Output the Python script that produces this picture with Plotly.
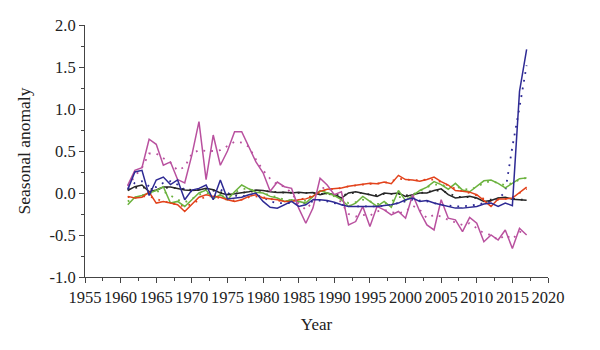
import plotly.graph_objects as go

years = list(range(1961, 2018))

magenta = [0.09, 0.27, 0.30, 0.64, 0.58, 0.33, 0.37, 0.16, 0.12, 0.45,
           0.85, 0.16, 0.69, 0.33, 0.50, 0.73, 0.73, 0.55, 0.37, 0.24,
           0.02, 0.13, 0.075, 0.055, -0.18, -0.36, -0.18, 0.175, 0.095, -0.02,
           0.015, -0.38, -0.34, -0.16, -0.40, -0.16, -0.20, -0.26, -0.22, -0.30,
           -0.02, -0.22, -0.38, -0.44, -0.08, -0.30, -0.32, -0.46, -0.29, -0.36,
           -0.58, -0.50, -0.56, -0.44, -0.66, -0.42, -0.50]
magenta_fit = [0.08, 0.20, 0.30, 0.47, 0.47, 0.41, 0.36, 0.27, 0.31, 0.47,
               0.51, 0.50, 0.50, 0.51, 0.56, 0.61, 0.60, 0.55, 0.40, 0.27,
               0.17, 0.10, 0.075, 0.0, -0.12, -0.20, -0.10, 0.05, 0.07, 0.0,
               -0.12, -0.25, -0.28, -0.26, -0.27, -0.22, -0.20, -0.23, -0.24, -0.22,
               -0.15, -0.20, -0.30, -0.26, -0.28, -0.32, -0.35, -0.38, -0.36, -0.42,
               -0.48, -0.50, -0.56, -0.50, -0.55, -0.46, -0.48]

blue = [0.04, 0.25, 0.27, -0.03, 0.155, 0.19, 0.10, 0.155, -0.08, 0.035,
        0.055, 0.095, -0.08, 0.155, -0.07, -0.06, -0.05, -0.02, 0.0, -0.10,
        -0.17, -0.18, -0.14, -0.10, -0.16, -0.14, -0.08, -0.08, -0.09, -0.11,
        -0.14, -0.16, -0.16, -0.16, -0.16, -0.16, -0.15, -0.14, -0.12, -0.08,
        -0.06, -0.10, -0.09, -0.12, -0.14, -0.16, -0.18, -0.18, -0.17, -0.16,
        -0.13, -0.12, -0.16, -0.12, -0.15, 1.21, 1.71]
blue_fit = [0.05, 0.12, 0.14, 0.08, 0.07, 0.12, 0.14, 0.10, 0.04, 0.02,
            0.04, 0.05, 0.03, 0.04, 0.0, -0.03, -0.04, -0.03, -0.02, -0.05,
            -0.10, -0.12, -0.12, -0.12, -0.13, -0.12, -0.10, -0.09, -0.10, -0.12,
            -0.14, -0.15, -0.16, -0.16, -0.16, -0.16, -0.15, -0.14, -0.12, -0.10,
            -0.08, -0.09, -0.10, -0.12, -0.14, -0.15, -0.16, -0.16, -0.15, -0.14,
            -0.12, -0.10, -0.08, 0.02, 0.55, 1.02, 1.52]

red = [-0.04, -0.06, -0.05, 0.01, -0.12, -0.10, -0.12, -0.14, -0.22, -0.14,
       -0.05, -0.02, -0.04, -0.05, -0.08, -0.10, -0.08, -0.04, -0.02, -0.06,
       -0.07, -0.08, -0.10, -0.10, -0.08, -0.07, -0.04, 0.02, 0.045, 0.05,
       0.06, 0.08, 0.09, 0.10, 0.115, 0.11, 0.13, 0.11, 0.21, 0.16,
       0.155, 0.14, 0.16, 0.19, 0.135, 0.095, 0.03, 0.02, 0.01, -0.02,
       -0.09, -0.16, -0.07, -0.07, -0.06, 0.0, 0.07]
red_fit = [-0.05, -0.05, -0.04, -0.04, -0.07, -0.10, -0.12, -0.14, -0.16, -0.13,
           -0.08, -0.04, -0.04, -0.06, -0.08, -0.09, -0.08, -0.05, -0.04, -0.05,
           -0.07, -0.09, -0.10, -0.09, -0.08, -0.06, -0.03, 0.01, 0.04, 0.05,
           0.06, 0.08, 0.09, 0.10, 0.11, 0.11, 0.12, 0.14, 0.17, 0.16,
           0.155, 0.15, 0.16, 0.16, 0.13, 0.09, 0.05, 0.02, 0.0, -0.03,
           -0.07, -0.10, -0.08, -0.07, -0.05, 0.0, 0.05]

green = [-0.14, -0.05, -0.03, 0.0, 0.03, 0.075, -0.12, -0.10, -0.16, -0.08,
         0.0, 0.035, -0.07, -0.02, -0.08, 0.015, 0.095, 0.05, 0.01, 0.0,
         -0.04, -0.06, -0.10, -0.08, -0.10, -0.12, -0.04, 0.03, 0.0, -0.03,
         -0.08, -0.16, -0.12, -0.04, -0.10, -0.16, -0.10, -0.17, 0.03, -0.09,
         -0.03, 0.03, 0.07, 0.135, 0.10, 0.045, 0.115, 0.035, 0.015, 0.075,
         0.145, 0.155, 0.115, 0.06, 0.12, 0.17, 0.18]
green_fit = [-0.10, -0.06, -0.03, -0.01, 0.02, 0.02, -0.03, -0.08, -0.11, -0.07,
             -0.02, 0.0, -0.03, -0.04, -0.04, 0.01, 0.05, 0.05, 0.02, 0.0,
             -0.03, -0.05, -0.08, -0.09, -0.10, -0.09, -0.04, 0.0, -0.01, -0.04,
             -0.08, -0.12, -0.11, -0.08, -0.10, -0.13, -0.13, -0.10, -0.05, -0.05,
             -0.02, 0.03, 0.07, 0.10, 0.10, 0.07, 0.08, 0.05, 0.04, 0.07,
             0.12, 0.14, 0.12, 0.09, 0.12, 0.16, 0.18]

black = [0.03, 0.075, 0.095, 0.015, 0.035, 0.07, 0.07, 0.055, 0.035, 0.03,
         0.035, 0.055, 0.04, 0.0, -0.02, -0.01, 0.0, 0.015, 0.035, 0.03,
         0.015, 0.005, 0.01, 0.0, 0.01, 0.0, 0.005, -0.02, 0.0, -0.02,
         -0.06, 0.0, 0.015, 0.0, -0.02, -0.04, 0.0, -0.01, 0.0, -0.04,
         -0.02, 0.0, 0.0, 0.03, 0.05, -0.02, -0.06, -0.05, -0.04, -0.06,
         -0.10, -0.09, -0.06, -0.05, -0.075, -0.08, -0.085]
black_fit = [0.04, 0.06, 0.07, 0.05, 0.04, 0.06, 0.065, 0.055, 0.04, 0.035,
             0.035, 0.04, 0.03, 0.01, -0.01, -0.01, 0.0, 0.015, 0.025, 0.025,
             0.015, 0.01, 0.005, 0.005, 0.005, 0.0, 0.0, -0.01, -0.01, -0.02,
             -0.03, -0.01, 0.005, 0.0, -0.02, -0.025, -0.01, -0.01, -0.01, -0.03,
             -0.02, 0.0, 0.01, 0.03, 0.03, 0.0, -0.04, -0.05, -0.05, -0.06,
             -0.08, -0.08, -0.065, -0.06, -0.07, -0.08, -0.085]

y_ticks = [-1.0, -0.5, 0.0, 0.5, 1.0, 1.5, 2.0]
y_tick_labels = ["-1.0", "-0.5", "0.0", "0.5", "1.0", "1.5", "2.0"]
x_ticks = list(range(1955, 2021, 5))

series = [
    (black, black_fit, "#262626"),
    (green, green_fit, "#6cb33f"),
    (red, red_fit, "#e2421b"),
    (magenta, magenta_fit, "#b9519f"),
    (blue, blue_fit, "#2e2a94"),
]

fig = go.Figure()
for vals, fit, col in series:
    fig.add_trace(go.Scatter(x=years, y=fit, mode="lines",
                             line=dict(color=col, width=1.8, dash="1.8px,6px"),
                             hoverinfo="skip", showlegend=False))
for vals, fit, col in series:
    fig.add_trace(go.Scatter(x=years, y=vals, mode="lines",
                             line=dict(color=col, width=1.5),
                             showlegend=False))

font_family = "Liberation Serif, Times New Roman, serif"
fig.update_layout(
    width=600, height=350,
    margin=dict(l=85, r=52, t=25, b=73),
    paper_bgcolor="white", plot_bgcolor="white",
    font=dict(family=font_family, size=16, color="#222"),
    showlegend=False,
)
fig.update_xaxes(
    range=[1955, 2020], tickvals=x_ticks, showgrid=False, zeroline=False,
    showline=True, linecolor="#444", linewidth=1,
    ticks="outside", ticklen=5, tickcolor="#444", tickwidth=1,
    minor=dict(ticks="outside", ticklen=3, dtick=2.5, tick0=1955, tickcolor="#444", showgrid=False),
    tickfont=dict(size=16.5),
    title=dict(text="Year", font=dict(size=17), standoff=12),
)
fig.update_yaxes(
    range=[-1.0, 2.0], tickvals=y_ticks, ticktext=y_tick_labels,
    showgrid=False, zeroline=False,
    showline=True, linecolor="#444", linewidth=1,
    ticks="outside", ticklen=5, tickcolor="#444", tickwidth=1,
    minor=dict(ticks="outside", ticklen=3, dtick=0.25, tick0=0, tickcolor="#444", showgrid=False),
    tickfont=dict(size=16.5),
    title=dict(text="Seasonal anomaly", font=dict(size=17.5), standoff=14),
)

fig.write_html("out.html")
